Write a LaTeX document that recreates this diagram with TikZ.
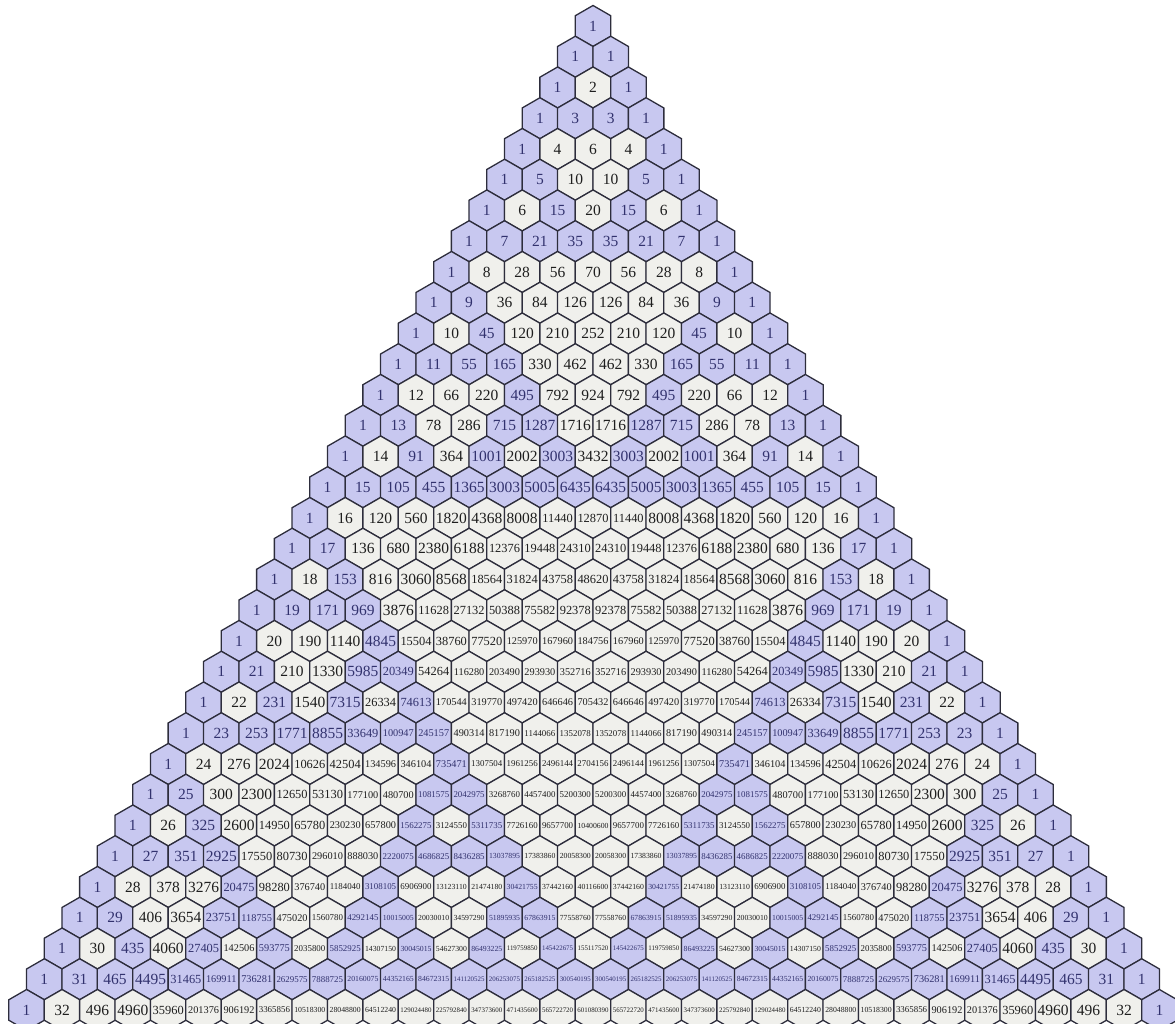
\documentclass[tikz,border=0pt]{standalone}
\usepackage{fontspec}
\setmainfont{Liberation Serif}
\usetikzlibrary{shapes.geometric}

\definecolor{oddfill}{RGB}{200,200,240}
\definecolor{evenfill}{RGB}{240,240,236}
\definecolor{oddtext}{RGB}{50,50,110}
\definecolor{eventext}{RGB}{30,30,30}
\definecolor{hexline}{RGB}{45,45,60}

% font size that lets the number fit in its cell
\newcommand\binsize[1]{%
  \ifnum#1<10000 \def\fs{15.5}\else
  \ifnum#1<100000 \def\fs{12.4}\else
  \ifnum#1<1000000 \def\fs{10.3}\else
  \ifnum#1<10000000 \def\fs{8.9}\else
  \ifnum#1<100000000 \def\fs{7.75}\else \def\fs{6.9}\fi\fi\fi\fi\fi
  \fontsize{\fs}{\fs}\selectfont}

\begin{document}
\begin{tikzpicture}[
  x=1pt, y=1pt,
  hexcell/.style={regular polygon, regular polygon sides=6, shape border rotate=30,
    minimum size=41pt, inner sep=0pt, outer sep=0pt, draw=hexline, line width=1.3pt}
]
\useasboundingbox (0,0) rectangle (1175,1023);
% rows of Pascal's triangle, odd entries shaded
\foreach \n in {0,...,32}{
  \foreach \k in {0,...,\n}{
    \ifnum\k=0 \gdef\binval{1}\else
      \xdef\binval{\the\numexpr\binval*(\n-\k+1)/\k\relax}\fi
    \ifodd\binval \def\cellfill{oddfill}\def\celltext{oddtext}%
    \else \def\cellfill{evenfill}\def\celltext{eventext}\fi
    \node[hexcell, fill=\cellfill, text=\celltext] (h-\n-\k)
      at ({593+(\k-\n/2)*35.4}, {997-30.75*\n})
      {\makebox[0pt]{\binsize{\binval}\binval}};
  }
}
\end{tikzpicture}
\end{document}
